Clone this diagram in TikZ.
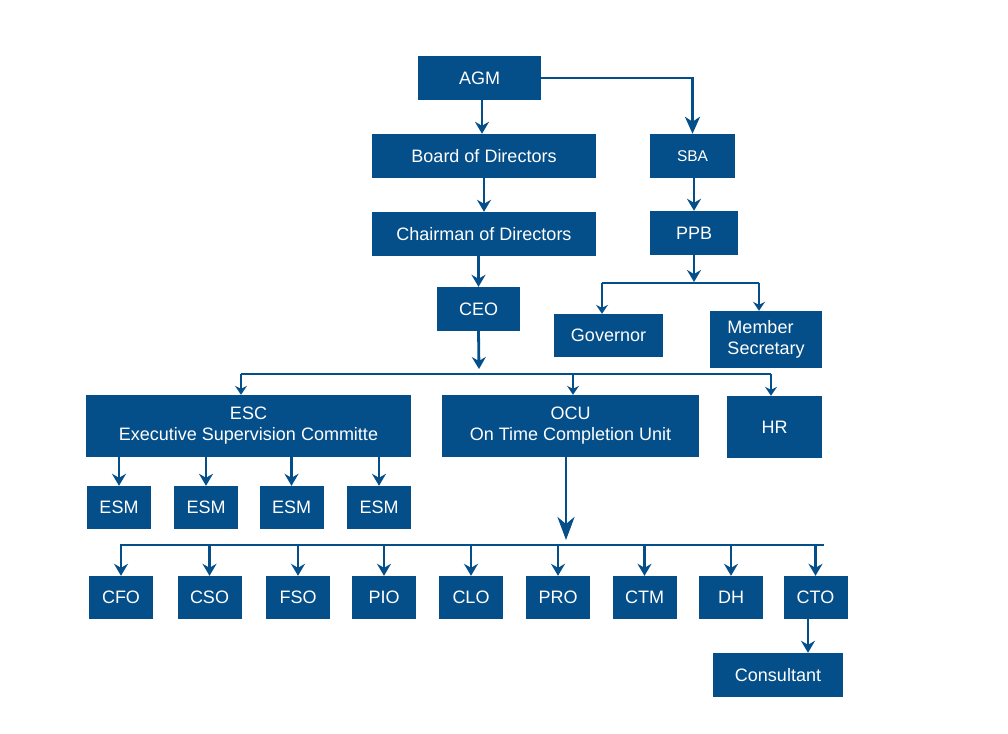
\documentclass[tikz,border=0pt]{standalone}
\usepackage{fontspec}
\setmainfont{Liberation Sans}
\usetikzlibrary{arrows.meta,calc}
\definecolor{orgblue}{RGB}{4,78,137}
\begin{document}
\begin{tikzpicture}[x=1pt,y=-1pt,
  box/.style={fill=orgblue,text=white,inner sep=0pt,font=\fontsize{18}{21}\selectfont,align=center},
  ln/.style={draw=orgblue,line width=2.8pt},
  arr/.style={ln,-{Stealth[length=12pt,width=14pt,inset=4pt]}},
  sarr/.style={ln,-{Stealth[length=9pt,width=12pt,inset=3pt]}},
  barr/.style={ln,-{Stealth[length=17pt,width=15pt,inset=5pt]}},
  harr/.style={ln,-{Stealth[length=23pt,width=17pt,inset=7pt]}}
]
\useasboundingbox (0,0) rectangle (1008,733);
% top
\node[box,minimum width=123pt,minimum height=44pt] (agm) at (479.5,78) {AGM};
\node[box,minimum width=224pt,minimum height=44pt] (board) at (484,156) {Board of Directors};
\node[box,minimum width=224pt,minimum height=44pt] (chair) at (484,234) {Chairman of Directors};
\node[box,minimum width=83pt,minimum height=44pt] (ceo) at (478.5,309) {CEO};
\node[box,minimum width=85pt,minimum height=44pt,font=\fontsize{15.5}{18}\selectfont] (sba) at (692.5,156) {SBA};
\node[box,minimum width=88pt,minimum height=44pt] (ppb) at (694,233) {PPB};
\node[box,minimum width=109pt,minimum height=43pt] (gov) at (608.5,335.5) {Governor};
\node[box,minimum width=112pt,minimum height=57pt,align=left] (mem) at (766,339.5) {Member\\Secretary};
% middle
\node[box,minimum width=325pt,minimum height=62pt] (esc) at (248.5,426) {ESC\\Executive Supervision Committe};
\node[box,minimum width=257pt,minimum height=62pt] (ocu) at (570.5,426) {OCU\\On Time Completion Unit};
\node[box,minimum width=95pt,minimum height=62pt] (hr) at (774.5,427) {HR};
% ESM
\foreach \n/\x in {1/119,2/206,3/291.5,4/379}{
  \node[box,minimum width=64pt,minimum height=43pt] (esm\n) at (\x,507.5) {ESM};
}
% bottom row
\foreach \n/\x/\t in {1/121/CFO,2/209.5/CSO,3/298/FSO,4/384/PIO,5/471/CLO,6/558/PRO,7/644.5/CTM,8/731/DH,9/815.5/CTO}{
  \node[box,minimum width=64pt,minimum height=43pt] (b\n) at (\x,597.5) {\t};
}
\node[box,minimum width=130pt,minimum height=44pt] (cons) at (778,675) {Consultant};
% coordinates
\coordinate (ceoend) at (479,369);
\coordinate (busL) at (241,374);
\coordinate (busR) at (771,374);
\coordinate (ppbend) at (694,282);
\coordinate (pbusL) at (602,283);
\coordinate (pbusR) at (759,283);
\coordinate (ocuend) at (566,540);
\coordinate (bbusL) at (120,545);
\coordinate (bbusR) at (824,545);
% connectors top
\draw[arr] (agm.south -| 482,0) -- (board.north -| 482,0);
\draw[arr] (board.south) -- (chair.north);
\draw[arr] (chair.south -| ceo.north) -- (ceo.north);
\draw[barr] (agm.east) -| (sba.north);
\draw[arr] (sba.south -| ppb.north) -- (ppb.north);
\draw[arr] (ppb.south) -- (ppbend);
\draw[ln] (pbusL) -- (pbusR);
\draw[sarr] (pbusL) -- (pbusL |- gov.north);
\draw[sarr] (pbusR) -- (pbusR |- mem.north);
% CEO bus
\draw[arr] (ceo.south) -- (ceoend);
\draw[ln] (busL) -- (busR);
\draw[sarr] (busL) -- (busL |- esc.north);
\draw[sarr] (busL -| 573,0) -- (ocu.north -| 573,0);
\draw[sarr] (busR) -- (busR |- hr.north);
% ESC to ESM
\foreach \n in {1,...,4}{
  \draw[arr] (esc.south -| esm\n.north) -- (esm\n.north);
}
% OCU to bottom
\draw[harr] (ocu.south -| ocuend) -- (ocuend);
\draw[ln] (bbusL) -- (bbusR);
\foreach \n in {1,...,9}{
  \draw[arr] (bbusL -| b\n.north) -- (b\n.north);
}
\draw[arr] (b9.south -| 808,0) -- (cons.north -| 808,0);
\end{tikzpicture}
\end{document}
